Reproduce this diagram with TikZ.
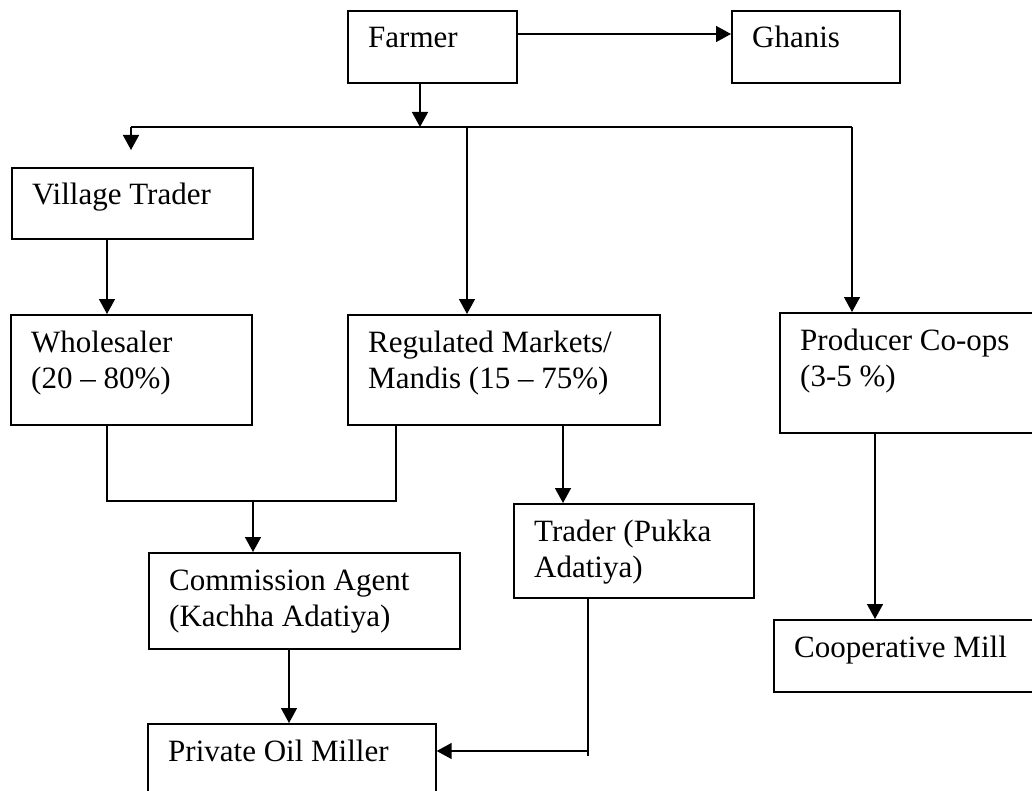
\documentclass[tikz,border=0pt]{standalone}
\usepackage{fontspec}
\setmainfont{Liberation Serif}
\usetikzlibrary{arrows.meta}
\newcommand\twol[2]{\vtop{\hbox{#1}\hbox{#2}}}
\tikzset{
  box/.style={draw, line width=1.7pt, inner sep=0pt, anchor=north west},
  txt/.style={inner sep=0pt, anchor=base west, font=\fontsize{31}{36}\selectfont},
  conn/.style={line width=1.5pt},
  arr/.style={line width=1.5pt, -{Triangle[length=15pt,width=16pt]}}
}
\newcommand\mybox[6]{%
  \node[box, minimum width=#4pt, minimum height=#5pt] (#1) at (#2,#3) {};
  \node[txt] (#1-t) at ([xshift=21pt,yshift=-38pt]#1.north west) {#6};
}
\begin{document}
\begin{tikzpicture}[x=1pt,y=-1pt]
\useasboundingbox (0,0) rectangle (1032,791);
\clip (0,0) rectangle (1032,791);
\fill[white] (0,0) rectangle (1032,791);
\mybox{farmer}{347}{10}{169}{72}{Farmer}
\mybox{ghanis}{731}{10}{168}{72}{Ghanis}
\mybox{village}{11}{167}{241}{71}{Village Trader}
\mybox{wholesaler}{10}{314}{241}{110}{\twol{Wholesaler}{(20 – 80\%)}}
\mybox{regulated}{347}{314}{312}{110}{\twol{Regulated Markets/}{Mandis (15 – 75\%)}}
\mybox{producer}{779}{312}{280}{120}{\twol{Producer Co-ops}{(3-5 \%)}}
\mybox{commission}{148}{552}{311}{96}{\twol{Commission Agent}{(Kachha Adatiya)}}
\mybox{trader}{513}{503}{240}{94}{\twol{Trader (Pukka}{Adatiya)}}
\mybox{private}{147}{723}{288}{100}{Private Oil Miller}
\mybox{coop}{773}{619}{280}{72}{Cooperative Mill}
% bus coordinates
\coordinate (busL) at (131,127);
\coordinate (busF) at (420,127);
\coordinate (busM) at (467,127);
\coordinate (busR) at (852,127);
\coordinate (vtTip) at (131,150);
\coordinate (jL) at (107,501);
\coordinate (jM) at (253,501);
\coordinate (jR) at (396,501);
\coordinate (tc) at (588,751);
\coordinate (tcEnd) at (588,756);
% connectors
\draw[arr] ([yshift=-24pt]farmer.north east) -- ([yshift=-24pt]ghanis.north west);
\draw[arr] (farmer.south -| busF) -- (busF);
\draw[conn] (busL) -- (busR);
\draw[arr] (busL) -- (vtTip);
\draw[arr] (busM) -- (regulated.north -| busM);
\draw[arr] (busR) -- (producer.north -| busR);
\draw[arr] ([xshift=96pt]village.south west) -- ([xshift=97pt]wholesaler.north west);
\draw[conn] ([xshift=97pt]wholesaler.south west) -- (jL) -- (jR) -- (regulated.south -| jR);
\draw[arr] (jM) -- (commission.north -| jM);
\draw[arr] ([xshift=141pt]commission.south west) -- ([xshift=142pt]private.north west);
\draw[arr] ([xshift=216pt]regulated.south west) -- ([xshift=50pt]trader.north west);
\draw[conn] ([xshift=75pt]trader.south west) -- (tcEnd);
\draw[arr] (tc) -- (private.east |- tc);
\draw[arr] ([xshift=96pt]producer.south west) -- ([xshift=102pt]coop.north west);
\end{tikzpicture}
\end{document}
